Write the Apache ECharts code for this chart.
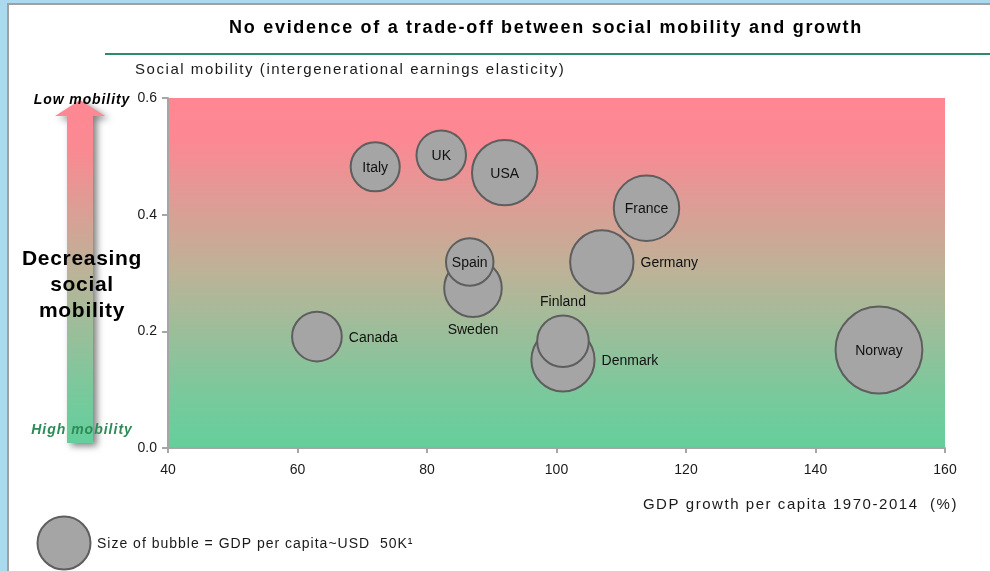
<!DOCTYPE html>
<html>
<head>
<meta charset="utf-8">
<script src="https://cdn.jsdelivr.net/npm/echarts@6/dist/echarts.min.js"></script>
<style>
html,body{margin:0;padding:0;background:#fff;}
#chart{width:990px;height:571px;}
</style>
</head>
<body>
<div id="chart"></div>
<script>
// ---- data ----
var countries = ['Italy', 'UK', 'USA', 'France', 'Germany', 'Sweden', 'Spain', 'Canada', 'Denmark', 'Finland', 'Norway'];
var gdpGrowth = [72.0, 82.2, 92.0, 113.9, 107.0, 87.1, 86.6, 63.0, 101.0, 101.0, 149.8];
var mobility = [0.482, 0.502, 0.472, 0.411, 0.319, 0.274, 0.319, 0.191, 0.151, 0.183, 0.168];
var gdpPerCapita = [46.3, 46.7, 61.7, 61.7, 59.8, 54.3, 44.8, 46.9, 59.6, 48.7, 81.9];
var labelPositions = ['inside', 'inside', 'inside', 'inside', 'right', 'bottom', 'inside', 'right', 'right', 'top', 'inside'];
var xTicks = [40, 60, 80, 100, 120, 140, 160];
var yTicks = [0.0, 0.2, 0.4, 0.6];
var legendGdp = 50;

var SIZE_PER_K = 1.06;
var FONT = '"Liberation Sans", Arial, sans-serif';

var TITLE = 'No evidence of a trade-off between social mobility and growth';
var Y_NAME = 'Social mobility (intergenerational earnings elasticity)';
var X_NAME = 'GDP growth per capita 1970-2014  (%)';
var LEGEND_TEXT = 'Size of bubble = GDP per capita~USD  50K\u00B9';

// extra letter spacing (px) for the loosely set text lines
var spacing = {};
spacing[TITLE] = 1.7;
spacing[Y_NAME] = 1.55;
spacing[X_NAME] = 1.55;
spacing[LEGEND_TEXT] = 1.0;
spacing['Decreasing'] = 0.7;
spacing['social'] = 0.7;
spacing['mobility'] = 0.7;
spacing['Low mobility'] = 0.9;
spacing['High mobility'] = 1.0;

// canvas text drawing with per-line letter spacing
(function () {
  var proto = CanvasRenderingContext2D.prototype;
  var origFill = proto.fillText;
  var origStroke = proto.strokeText;
  function wrap(orig) {
    return function (text) {
      if (spacing.hasOwnProperty(text) && 'letterSpacing' in this) {
        var prev = this.letterSpacing;
        this.letterSpacing = spacing[text] + 'px';
        var r = orig.apply(this, arguments);
        this.letterSpacing = prev;
        return r;
      }
      return orig.apply(this, arguments);
    };
  }
  proto.fillText = wrap(origFill);
  proto.strokeText = wrap(origStroke);
})();

function txt(text, font, x, y, align, fill) {
  return {type: 'text', x: x, y: y, z: 5,
    style: {text: text, fill: fill, font: font, textAlign: align, textVerticalAlign: 'middle'}};
}

var chart = echarts.init(document.getElementById('chart'), null, {renderer: 'canvas'});

var seriesData = countries.map(function (c, i) {
  var pos = labelPositions[i];
  return {
    name: c,
    value: [gdpGrowth[i], mobility[i], gdpPerCapita[i]],
    label: {
      show: true,
      position: pos,
      distance: pos === 'right' ? 6 : (pos === 'inside' ? 0 : 5),
      offset: pos === 'inside' ? [0, 1] : (pos === 'right' ? [0, 1.5] : [0, 0]),
      formatter: c
    }
  };
});

var plotGradient = new echarts.graphic.LinearGradient(0, 0, 0, 1, [
  {offset: 0, color: '#ff8793'},
  {offset: 0.12, color: '#fc8893'},
  {offset: 0.5, color: '#bcb398'},
  {offset: 0.85, color: '#79c99c'},
  {offset: 1, color: '#64cf9b'}
]);

var arrowGradient = new echarts.graphic.LinearGradient(0, 0, 0, 1, [
  {offset: 0, color: '#ff8793'},
  {offset: 0.15, color: '#f98a92'},
  {offset: 0.5, color: '#bcb398'},
  {offset: 0.85, color: '#79c99c'},
  {offset: 1, color: '#64cf9b'}
]);

var option = {
  animation: false,
  backgroundColor: '#ffffff',
  textStyle: {fontFamily: FONT},
  grid: {
    left: 168, right: 45, top: 98, bottom: 123,
    show: true,
    backgroundColor: plotGradient,
    borderWidth: 0
  },
  xAxis: {
    type: 'value',
    min: xTicks[0], max: xTicks[xTicks.length - 1], interval: 20,
    axisLine: {show: true, lineStyle: {color: '#a6a6a6', width: 2}},
    axisTick: {show: true, length: 5, lineStyle: {color: '#a6a6a6', width: 2}},
    axisLabel: {color: '#1a1a1a', fontSize: 14, margin: 15, fontFamily: FONT},
    splitLine: {show: false}
  },
  yAxis: {
    type: 'value',
    min: yTicks[0], max: yTicks[yTicks.length - 1], interval: 0.2,
    axisLine: {show: true, lineStyle: {color: '#a6a6a6', width: 2}},
    axisTick: {show: true, length: 6, lineStyle: {color: '#a6a6a6', width: 2}},
    axisLabel: {color: '#1a1a1a', fontSize: 14, margin: 11, fontFamily: FONT,
      formatter: function (v) { return v.toFixed(1); }},
    splitLine: {show: false}
  },
  series: [{
    type: 'scatter',
    data: seriesData,
    symbol: 'circle',
    symbolSize: function (val) { return val[2] * SIZE_PER_K; },
    itemStyle: {color: '#a5a5a5', borderColor: '#5e5e5e', borderWidth: 2, opacity: 1},
    label: {color: '#111111', fontSize: 14, fontFamily: FONT},
    emphasis: {disabled: true}
  }],
  graphic: [
    // page frame
    {type: 'rect', left: 0, top: 0, shape: {width: 990, height: 3}, style: {fill: '#abd9ef'}, silent: true},
    {type: 'rect', left: 0, top: 0, shape: {width: 7, height: 571}, style: {fill: '#abd9ef'}, silent: true},
    {type: 'rect', left: 7, top: 3, shape: {width: 983, height: 2}, style: {fill: '#a0a0a0'}, silent: true},
    {type: 'rect', left: 7, top: 3, shape: {width: 2, height: 568}, style: {fill: '#a0a0a0'}, silent: true},
    // title
    txt(TITLE, 'bold 18px ' + FONT, 546, 28, 'center', '#000'),
    {type: 'rect', left: 105, top: 53, shape: {width: 885, height: 2}, style: {fill: '#2e8a6c'}, silent: true},
    // axis titles
    txt(Y_NAME, '15px ' + FONT, 135, 69.5, 'left', '#1a1a1a'),
    txt(X_NAME, '15px ' + FONT, 958, 504.5, 'right', '#1a1a1a'),
    // arrow
    {type: 'polygon', z: 1,
      shape: {points: [[80, 100], [105, 116], [93, 116], [93, 443], [67, 443], [67, 116], [55, 116]]},
      style: {fill: arrowGradient, shadowBlur: 7, shadowOffsetX: 4, shadowOffsetY: 3, shadowColor: 'rgba(0,0,0,0.5)'}},
    txt('Decreasing', 'bold 21px ' + FONT, 82, 259, 'center', '#000'),
    txt('social', 'bold 21px ' + FONT, 82, 285, 'center', '#000'),
    txt('mobility', 'bold 21px ' + FONT, 82, 311, 'center', '#000'),
    txt('Low mobility', 'italic bold 14px ' + FONT, 82, 100, 'center', '#000'),
    txt('High mobility', 'italic bold 14px ' + FONT, 82, 430, 'center', '#2e8b57'),
    // size legend
    {type: 'circle', shape: {cx: 64, cy: 543, r: legendGdp * SIZE_PER_K / 2}, style: {fill: '#a5a5a5', stroke: '#5e5e5e', lineWidth: 2}},
    txt(LEGEND_TEXT, '14px ' + FONT, 97, 544, 'left', '#1a1a1a')
  ]
};

chart.setOption(option);
</script>
</body>
</html>
